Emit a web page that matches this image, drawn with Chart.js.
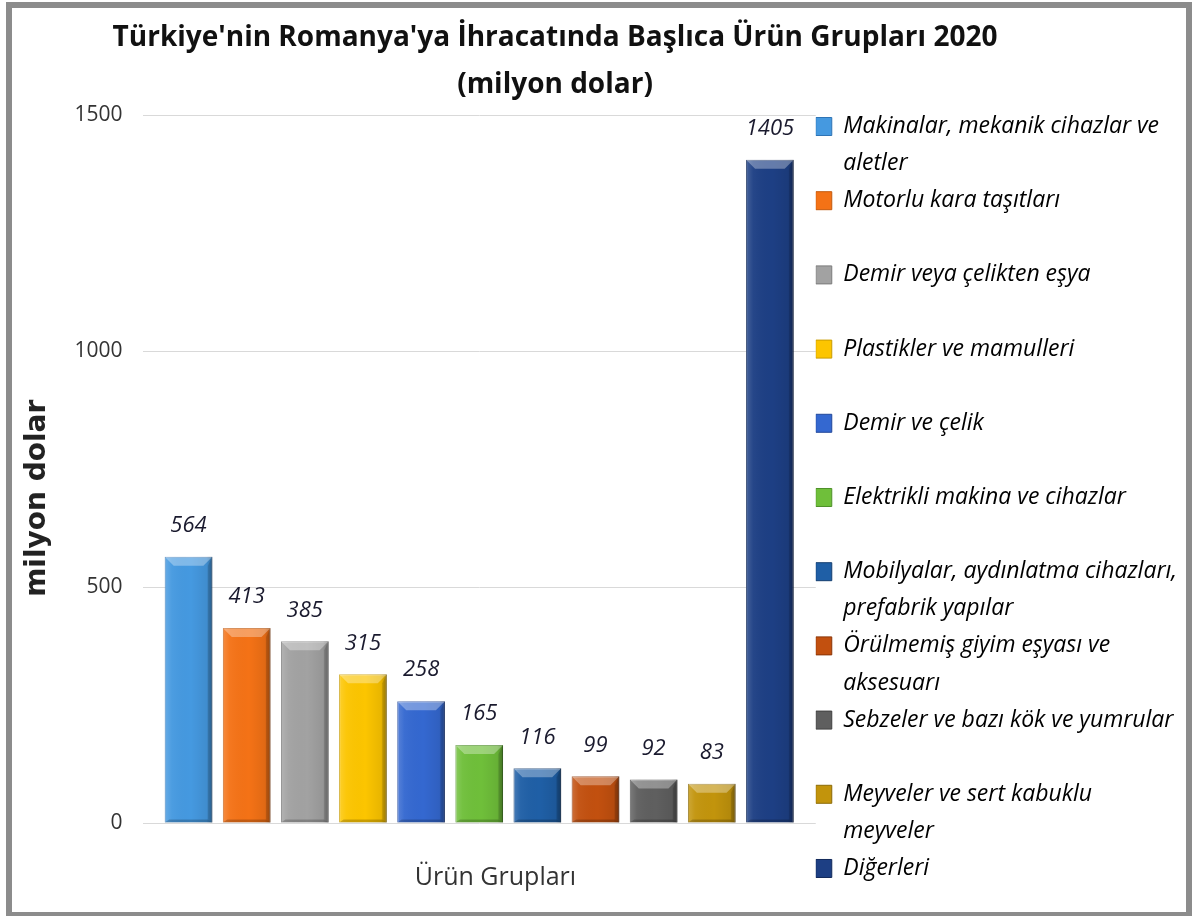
<!DOCTYPE html>
<html lang="tr">
<head>
<meta charset="utf-8">
<title>Türkiye'nin Romanya'ya İhracatında Başlıca Ürün Grupları 2020</title>
<script src="https://cdn.jsdelivr.net/npm/chart.js@4.4.1/dist/chart.umd.min.js"></script>
<style>
	html, body { margin: 0; padding: 0; background: #fff; }
	#wrap { position: relative; width: 1194px; height: 916px; }
	#frame {
		position: absolute; left: 6px; top: 2px; width: 1186px; height: 914px;
		box-sizing: border-box; border: 6px solid #8c8c8c; border-bottom-width: 4px;
		pointer-events: none;
	}
	canvas { display: block; }
</style>
</head>
<body>
<div id="wrap">
	<canvas id="chart" width="1194" height="916"></canvas>
	<div id="frame"></div>
</div>
<script>
const titleLines = ["Türkiye'nin Romanya'ya İhracatında Başlıca Ürün Grupları 2020", '(milyon dolar)'];
const xTitle = 'Ürün Grupları';
const yTitle = 'milyon dolar';

const groups = [
	'Makinalar, mekanik cihazlar ve aletler',
	'Motorlu kara taşıtları',
	'Demir veya çelikten eşya',
	'Plastikler ve mamulleri',
	'Demir ve çelik',
	'Elektrikli makina ve cihazlar',
	'Mobilyalar, aydınlatma cihazları, prefabrik yapılar',
	'Örülmemiş giyim eşyası ve aksesuarı',
	'Sebzeler ve bazı kök ve yumrular',
	'Meyveler ve sert kabuklu meyveler',
	'Diğerleri'
];

// legend text as it wraps in the original
const legendLines = [
	['Makinalar, mekanik cihazlar ve', 'aletler'],
	['Motorlu kara taşıtları', ''],
	['Demir veya çelikten eşya', ''],
	['Plastikler ve mamulleri', ''],
	['Demir ve çelik', ''],
	['Elektrikli makina ve cihazlar', ''],
	['Mobilyalar, aydınlatma cihazları,', 'prefabrik yapılar'],
	['Örülmemiş giyim eşyası ve', 'aksesuarı'],
	['Sebzeler ve bazı kök ve yumrular', ''],
	['Meyveler ve sert kabuklu', 'meyveler'],
	['Diğerleri']
];

const values = [564, 413, 385, 315, 258, 165, 116, 99, 92, 83, 1405];
const yTicks = [0, 500, 1000, 1500];

const colors = [
	'#4599e0', '#f47216', '#a2a2a2', '#fcc500', '#3468d0', '#6fbf3a',
	'#1f5fa6', '#c2500f', '#5f5f5f', '#c2940c', '#1d3f84'
];
const edgeColors = [
	'#2f74b5', '#c45a0e', '#7c7c7c', '#c99c00', '#23489a', '#4f912a',
	'#163f70', '#8a3609', '#404040', '#8c6a08', '#122a5a'
];

// the axis titles sit a little off-centre in the original; pad with nbsp
const nbsp = n => '\u00a0'.repeat(n);

// 3D-looking bevel over each bar and the italic value above it
const bevelPlugin = {
	id: 'bevel',
	afterDatasetsDraw(chart) {
		const ctx = chart.ctx;
		chart.data.datasets.forEach((ds, i) => {
			const meta = chart.getDatasetMeta(i);
			meta.data.forEach((bar, j) => {
				const { x, y, base, width } = bar.getProps(['x', 'y', 'base', 'width'], true);
				const l = x - width / 2, r = x + width / 2, t = y, b = base;
				const bv = Math.min(9, (b - t) / 3);
				ctx.save();
				const g = ctx.createLinearGradient(l, 0, r, 0);
				g.addColorStop(0, 'rgba(255,255,255,0.18)');
				g.addColorStop(0.15, 'rgba(255,255,255,0.04)');
				g.addColorStop(0.55, 'rgba(0,0,0,0)');
				g.addColorStop(0.88, 'rgba(0,0,0,0.08)');
				g.addColorStop(1, 'rgba(0,0,0,0.3)');
				ctx.fillStyle = g;
				ctx.fillRect(l, t, width, b - t);

				ctx.fillStyle = 'rgba(255,255,255,0.32)';
				ctx.beginPath();
				ctx.moveTo(l, t); ctx.lineTo(r, t); ctx.lineTo(r - bv, t + bv); ctx.lineTo(l + bv, t + bv);
				ctx.closePath(); ctx.fill();

				ctx.fillStyle = 'rgba(0,0,0,0.12)';
				ctx.beginPath();
				ctx.moveTo(r, t); ctx.lineTo(r, b); ctx.lineTo(r - bv / 2, b - 3); ctx.lineTo(r - bv / 2, t + bv);
				ctx.closePath(); ctx.fill();

				ctx.fillStyle = 'rgba(0,0,0,0.2)';
				ctx.beginPath();
				ctx.moveTo(l, b); ctx.lineTo(r, b); ctx.lineTo(r - bv / 2, b - 3); ctx.lineTo(l + bv / 2, b - 3);
				ctx.closePath(); ctx.fill();
				ctx.restore();

				ctx.save();
				ctx.font = 'italic 22px "Open Sans"';
				ctx.fillStyle = '#1a1a2e';
				ctx.textAlign = 'center';
				ctx.textBaseline = 'middle';
				ctx.fillText(String(ds.data[j]), x, t - 31);
				ctx.restore();
			});
		});
	}
};

// two-line heading, placed as in the original (left of canvas centre)
const headingPlugin = {
	id: 'heading',
	afterDraw(chart) {
		const ctx = chart.ctx;
		ctx.save();
		ctx.font = 'bold 28px "Open Sans"';
		ctx.fillStyle = '#111';
		ctx.textAlign = 'center';
		ctx.textBaseline = 'middle';
		ctx.fillText(titleLines[0], 555, 38);
		ctx.fillText(titleLines[1], 555, 85);
		ctx.restore();
	}
};

const datasets = groups.map((g, i) => ({
	label: g,
	data: [values[i]],
	backgroundColor: colors[i],
	borderColor: edgeColors[i],
	borderWidth: 1,
	categoryPercentage: 0.95,
	barPercentage: 0.82
}));

new Chart(document.getElementById('chart'), {
	type: 'bar',
	data: { labels: [''], datasets },
	options: {
		responsive: false,
		animation: false,
		layout: { padding: { top: 115, left: 11, right: 7, bottom: 0 } },
		scales: {
			x: {
				grid: { display: false },
				border: { display: false },
				ticks: { display: false },
				title: {
					display: true,
					text: nbsp(5) + xTitle,
					color: '#333',
					font: { family: 'Open Sans', size: 25 },
					padding: { top: 32, bottom: 23 }
				}
			},
			y: {
				min: 0,
				max: 1500,
				afterBuildTicks: axis => { axis.ticks = yTicks.map(v => ({ value: v })); },
				grid: { color: '#d9d9d9', drawTicks: false },
				border: { display: false },
				ticks: {
					padding: 20,
					color: '#333',
					font: { family: 'Open Sans', size: 21 },
					callback: v => String(v)
				},
				title: {
					display: true,
					text: yTitle + nbsp(6),
					color: '#222',
					font: { family: 'DejaVu Sans', size: 28, weight: 'bold' },
					padding: { top: 10, bottom: 0 }
				}
			}
		},
		plugins: {
			title: { display: false },
			tooltip: { enabled: false },
			legend: {
				position: 'right',
				align: 'start',
				maxWidth: 420,
				labels: {
					boxWidth: 16,
					boxHeight: 18,
					padding: 0,
					color: '#111',
					font: { family: 'Open Sans', size: 23, style: 'italic', lineHeight: 1.613 },
					generateLabels: chart => chart.data.datasets.map((ds, i) => ({
						text: legendLines[i],
						fillStyle: colors[i],
						strokeStyle: edgeColors[i],
						lineWidth: 1,
						hidden: false,
						datasetIndex: i
					}))
				}
			}
		}
	},
	plugins: [bevelPlugin, headingPlugin]
});
</script>
</body>
</html>
